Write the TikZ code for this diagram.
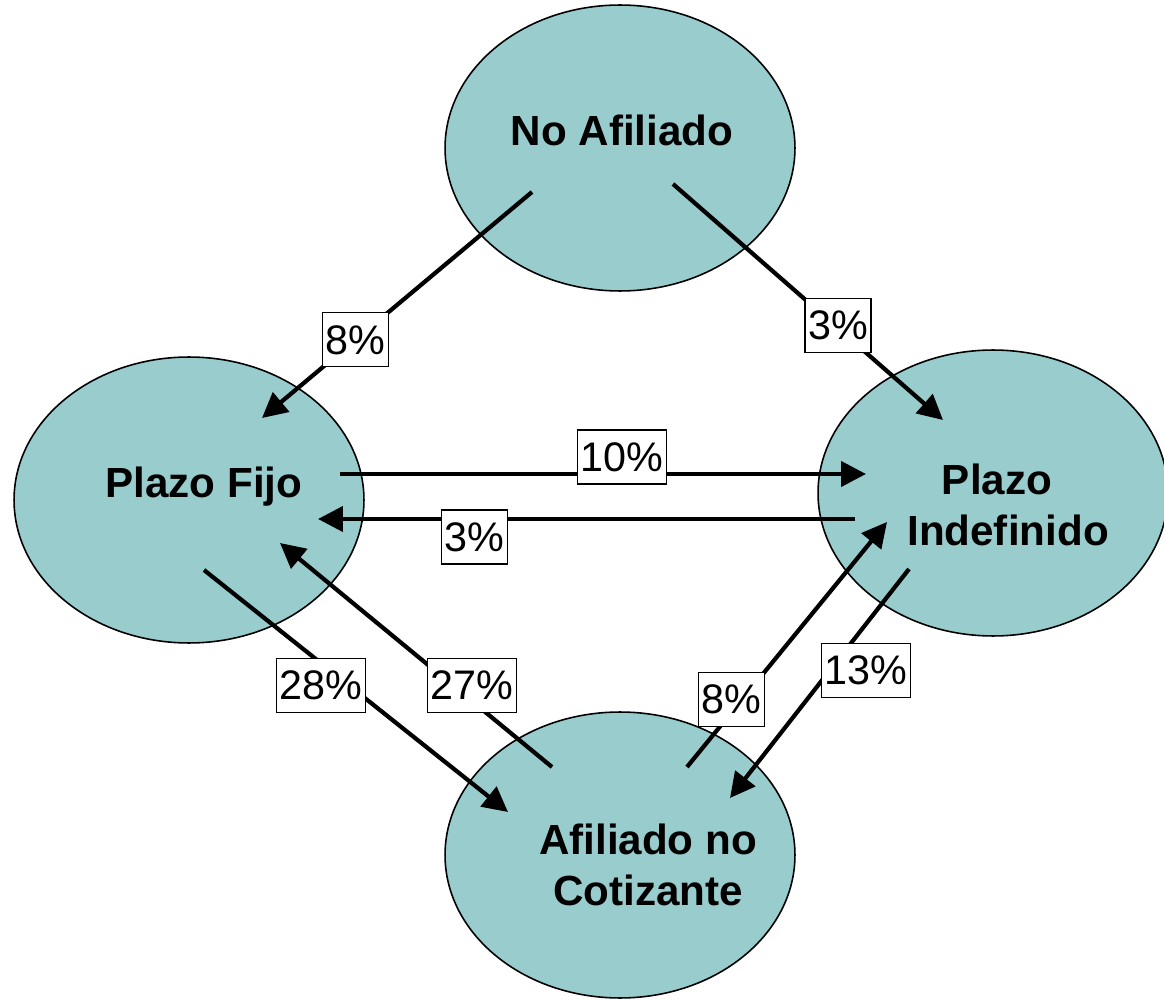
\documentclass[tikz,border=0pt]{standalone}
\usepackage{fontspec}
\setmainfont{Liberation Sans}
\usepackage{xcolor}
\usetikzlibrary{arrows.meta,calc,positioning,shapes.geometric}
\definecolor{stateteal}{RGB}{153,204,204}
\tikzset{%
	state/.style = {draw, ellipse, fill=stateteal, line width=0.9pt, inner sep=0pt, minimum width=7cm, minimum height=5.72cm},
	statetext/.style = {align=center, font=\fontsize{24}{29}\selectfont\bfseries},
	rate/.style  = {draw, fill=white, line width=0.6pt, inner xsep=1.8pt, inner ysep=0pt, minimum height=1.08cm, font=\fontsize{23.5}{28}\selectfont},
	arrow/.style = {line width=2.4pt, -{Triangle[length=0.5cm,width=0.5cm]}},
}
\begin{document}
\begin{tikzpicture}[x=0.02cm,y=-0.02cm]
	\useasboundingbox (0,0) rectangle (1164,1000);
	
	% states
	\node[state] (na)  at (620,148) {};
	\node[state] (pf)  at (189,500) {};
	\node[state] (pi)  at (993,493) {};
	\node[state] (anc) at (620,855) {};
	\node[statetext] (na-t)  at ($(na)+(2,-18)$)  {No Afiliado};
	\node[statetext] (pf-t)  at ($(pf)+(15,-13)$) {Plazo Fijo};
	\node[statetext] (pi-t)  at ($(pi)+(15,12)$)  {Plazo\hspace*{0.44cm}\\Indefinido};
	\node[statetext] (anc-t) at ($(anc)+(28,10)$) {Afiliado no\\Cotizante};
	
	% transitions
	\draw[arrow] ($(na)+(-88,44)$) -- ($(pf)+(73,-82)$) node[rate,pos=0.654] (r1) {8\%};
	\draw[arrow] ($(na)+(53,36)$) -- ($(pi)+(-50,-73)$) node[rate,pos=0.6,xshift=0.06cm] (r2) {3\%};
	\draw[arrow] ($(pf)+(151,-26)$) -- ($(pi)+(-127,-19)$) node[rate,pos=0.536,yshift=0.34cm] (r3) {10\%};
	\draw[arrow] ($(pi)+(-138,26)$) -- ($(pf)+(129,19)$) node[rate,pos=0.708,yshift=-0.36cm] (r4) {3\%};
	\draw[arrow] ($(pf)+(15,70)$) -- ($(anc)+(-112,-43)$) node[rate,pos=0.42,xshift=-0.21cm,yshift=-0.27cm] (r5) {28\%};
	\draw[arrow] ($(anc)+(-68,-88)$) -- ($(pf)+(91,43)$) node[rate,pos=0.323,xshift=0.16cm,yshift=0.19cm] (r6) {27\%};
	\draw[arrow] ($(anc)+(67,-88)$) -- ($(pi)+(-106,29)$) node[rate,pos=0.254,xshift=-0.12cm,yshift=0.1cm] (r7) {8\%};
	\draw[arrow] ($(pi)+(-84,76)$) -- ($(anc)+(110,-57)$) node[rate,pos=0.365,xshift=0.45cm,yshift=-0.35cm] (r8) {13\%};
\end{tikzpicture}
\end{document}
